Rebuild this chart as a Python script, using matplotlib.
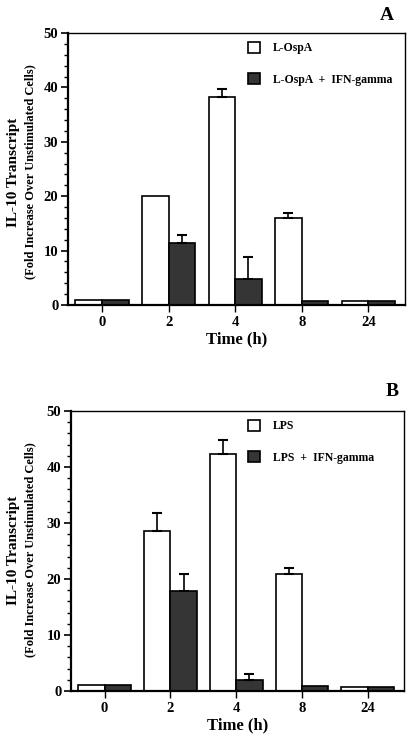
import matplotlib
matplotlib.use("Agg")
import matplotlib.pyplot as plt
from matplotlib.patches import Patch
import numpy as np

plt.rcParams['font.family'] = ['Liberation Serif', 'DejaVu Serif']
plt.rcParams['font.weight'] = 'bold'

time_labels = ["0", "2", "4", "8", "24"]

a_ospa = [1.0, 20.0, 38.2, 16.0, 0.8]
a_ospa_err = [0, 0, 1.5, 1.0, 0]
a_ospa_ifn = [0.9, 11.4, 4.8, 0.8, 0.7]
a_ospa_ifn_err = [0, 1.4, 4.1, 0, 0]

b_lps = [1.1, 28.5, 42.3, 20.9, 0.8]
b_lps_err = [0, 3.3, 2.6, 1.0, 0]
b_lps_ifn = [1.0, 17.9, 1.9, 0.9, 0.8]
b_lps_ifn_err = [0, 3.0, 1.1, 0, 0]

W, H = 412, 737
fig = plt.figure(figsize=(W / 100, H / 100), dpi=100)

dark = '#353535'

def panel(rect, white, white_err, darkv, dark_err, lab1, lab2, letter, letter_xy, ylab_y):
    l, t, r, b = rect
    ax = fig.add_axes([l / W, 1 - b / H, (r - l) / W, (b - t) / H])
    x = np.arange(len(time_labels))
    w = 0.4
    ax.bar(x - w / 2, white, width=w, color='white', edgecolor='black', linewidth=1.2, zorder=2)
    ax.bar(x + w / 2, darkv, width=w, color=dark, edgecolor='black', linewidth=1.2, zorder=2)
    for xs, vals, errs in ((x - w / 2, white, white_err), (x + w / 2, darkv, dark_err)):
        for xi, v, e in zip(xs, vals, errs):
            if e > 0:
                ax.errorbar([xi], [v], yerr=[[0], [e]], fmt='none', ecolor='black',
                            elinewidth=1.2, capsize=3.5, capthick=1.5, zorder=3)
    ax.set_xlim(-0.51, 4.55)
    ax.set_ylim(0, 50)
    ax.set_xticks(x)
    ax.set_xticklabels(time_labels, fontsize=10.5, fontweight='bold')
    ax.set_yticks([0, 10, 20, 30, 40, 50])
    ax.set_yticks(np.arange(0, 51, 2), minor=True)
    ax.tick_params(axis='y', which='major', length=5, width=1.2, labelsize=10.5, pad=2)
    ax.tick_params(axis='y', which='minor', length=3, width=1.0)
    ax.tick_params(axis='x', which='major', length=5, width=1.0, labelsize=10.5, pad=3)
    for s in ax.spines.values():
        s.set_linewidth(1.0)
    ax.spines['left'].set_linewidth(1.6)
    ax.spines['bottom'].set_linewidth(1.6)
    ax.set_xlabel('Time (h)', fontsize=12, fontweight='bold', labelpad=2)
    handles = [Patch(facecolor='white', edgecolor='black', linewidth=1.2),
               Patch(facecolor=dark, edgecolor='black', linewidth=1.2)]
    ax.legend(handles, [lab1, lab2], loc='upper left',
              bbox_to_anchor=((248 - l) / (r - l), 1 - (letter_xy[2] - t) / (b - t)),
              frameon=False, handlelength=1.0, handleheight=1.0,
              handletextpad=1.1, labelspacing=1.6, borderpad=0, borderaxespad=0,
              prop={'weight': 'bold', 'size': 8.5})
    fig.text(letter_xy[0] / W, 1 - letter_xy[1] / H, letter, fontsize=14,
             fontweight='bold', ha='center', va='center')
    fig.text(14 / W, 1 - ylab_y / H, 'IL-10 Transcript', rotation=90, fontsize=11,
             fontweight='bold', ha='center', va='center')
    fig.text(30 / W, 1 - ylab_y / H, '(Fold Increase Over Unstimulated Cells)',
             rotation=90, fontsize=9.0, fontweight='bold', ha='center', va='center')
    return ax

panel((68, 33, 405, 305), a_ospa, a_ospa_err, a_ospa_ifn, a_ospa_ifn_err,
      'L-OspA', 'L-OspA  +  IFN-gamma', 'A', (387, 16, 42), 172)
panel((71, 411, 404, 691), b_lps, b_lps_err, b_lps_ifn, b_lps_ifn_err,
      'LPS', 'LPS  +  IFN-gamma', 'B', (392, 391, 420), 550)

fig.savefig('out.png', dpi=100)
